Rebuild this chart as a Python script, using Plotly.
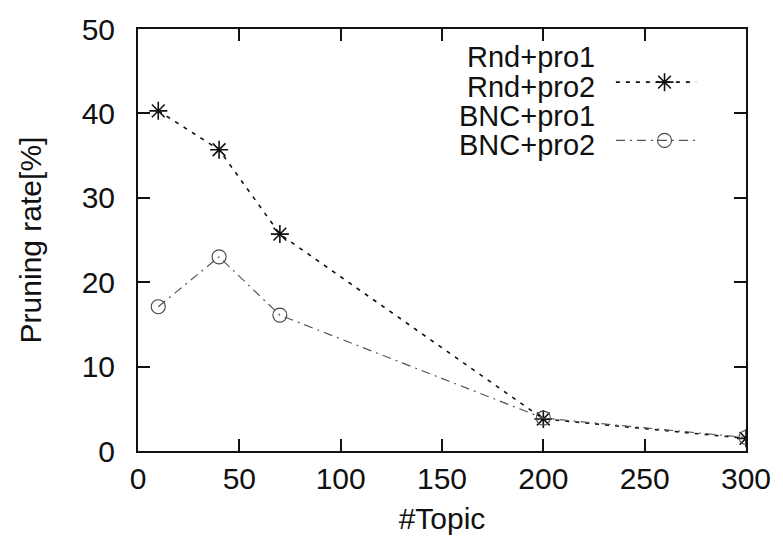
import plotly.graph_objects as go

# Data
topics = [10, 40, 70, 200, 300]
rnd_pro2 = [40.3, 35.7, 25.7, 3.8, 1.5]
bnc_pro2 = [17.1, 23.0, 16.1, 3.9, 1.6]
legend_names = ["Rnd+pro1", "Rnd+pro2", "BNC+pro1", "BNC+pro2"]
x_ticks = [0, 50, 100, 150, 200, 250, 300]
y_ticks = [0, 10, 20, 30, 40, 50]

FONT = "Liberation Sans, Arial, Helvetica, sans-serif"
rnd_line = dict(color="#111111", width=1.6, dash="4px,6px")
bnc_line = dict(color="#555555", width=1.2, dash="9px,5px,2px,5px")
rnd_marker = dict(symbol="asterisk-open", size=15, color="#111111", line=dict(color="#111111", width=1.6))
bnc_marker = dict(symbol="circle-open", size=14, color="#444444", line=dict(color="#444444", width=1.1))

fig = go.Figure()
fig.add_trace(go.Scatter(x=topics, y=rnd_pro2, mode="lines+markers", name="Rnd+pro2",
                         line=rnd_line, marker=rnd_marker, showlegend=False))
fig.add_trace(go.Scatter(x=topics, y=bnc_pro2, mode="lines+markers", name="BNC+pro2",
                         line=bnc_line, marker=bnc_marker, showlegend=False))
# invisible carrier trace for the y tick-label axis
fig.add_trace(go.Scatter(x=[topics[0]], y=[rnd_pro2[0]], yaxis="y3", mode="markers",
                         marker=dict(opacity=0), showlegend=False, hoverinfo="skip"))

# custom gnuplot-style legend (text right, sample to its right) on an overlay axis in [0,1]
rows_y = [0.935, 0.866, 0.797, 0.728]
samples = {1: (rnd_line, rnd_marker), 3: (bnc_line, bnc_marker)}
for i, name in enumerate(legend_names):
    fig.add_annotation(x=0.755, y=rows_y[i], xref="x2", yref="y2", text=name, showarrow=False,
                       xanchor="right", yanchor="middle", yshift=-1,
                       font=dict(family=FONT, size=29, color="#111111"))
    if i in samples:
        ln, mk = samples[i]
        fig.add_trace(go.Scatter(x=[0.786, 0.918], y=[rows_y[i] + 0.008] * 2, mode="lines", line=ln,
                                 xaxis="x2", yaxis="y2", showlegend=False, hoverinfo="skip"))
        fig.add_trace(go.Scatter(x=[0.866], y=[rows_y[i] + 0.008], mode="markers", marker=mk,
                                 xaxis="x2", yaxis="y2", showlegend=False, hoverinfo="skip"))

axis_common = dict(showline=True, linewidth=2, linecolor="#111111", mirror="ticks", ticks="inside",
                   ticklen=12, tickwidth=1.6, tickcolor="#111111", showgrid=False, zeroline=False,
                   tickfont=dict(family=FONT, size=30, color="#111111"))
fig.update_layout(
    width=783, height=549,
    margin=dict(l=138, r=33, t=21, b=98),
    paper_bgcolor="white", plot_bgcolor="white",
    font=dict(family=FONT, size=30, color="#111111"),
    xaxis=dict(range=[0, 300], tickvals=x_ticks, title=dict(text="#Topic", standoff=14,
               font=dict(family=FONT, size=30)), **axis_common),
    yaxis=dict(range=[0, 50], tickvals=y_ticks, showticklabels=False, **axis_common),
    yaxis3=dict(overlaying="y", range=[0, 50], tickvals=y_ticks, side="left", anchor="x",
                ticks="outside", ticklen=16, tickcolor="rgba(0,0,0,0)", tickwidth=1, showline=False,
                showgrid=False, zeroline=False, fixedrange=True,
                tickfont=dict(family=FONT, size=30, color="#111111"),
                title=dict(text="Pruning rate[%]", standoff=31, font=dict(family=FONT, size=30))),
    xaxis2=dict(overlaying="x", range=[0, 1], visible=False, fixedrange=True),
    yaxis2=dict(overlaying="y", range=[0, 1], visible=False, fixedrange=True),
    showlegend=False,
)
fig.write_html("out.html")
